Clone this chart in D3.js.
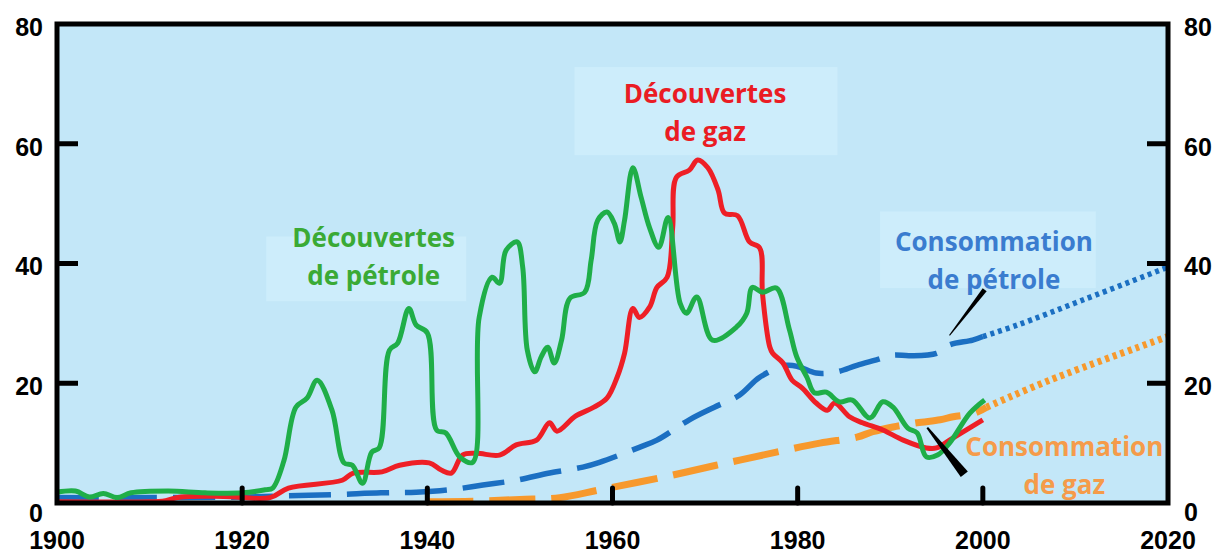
<!DOCTYPE html>
<html>
<head>
<meta charset="utf-8">
<script src="https://cdn.jsdelivr.net/npm/d3@7"></script>
<style>
  body { margin: 0; background: #fff; }
  svg { display: block; }
</style>
</head>
<body>
<script>
const width = 1227;
const height = 554;

// Découvertes de pétrole (green)
const oilDiscYears = [1900, 1902, 1903.5, 1905, 1906.5, 1908, 1912, 1916, 1920, 1922.5, 1923.3, 1924.5, 1925.8, 1927, 1928.1, 1929.7, 1931, 1931.9, 1933, 1934, 1934.8, 1935.9, 1936.8, 1938, 1938.8, 1940, 1941, 1942, 1943.5, 1944.9, 1945.6, 1947, 1947.8, 1948.5, 1949.7, 1950.3, 1950.8, 1951.6, 1952.3, 1953, 1953.7, 1954.5, 1955.4, 1957, 1957.7, 1958.4, 1959.4, 1960.2, 1960.8, 1961.3, 1962.2, 1963.1, 1964, 1965, 1966, 1967.3, 1968, 1969.1, 1970.8, 1973.4, 1974.5, 1975.1, 1976.2, 1977.7, 1979.1, 1979.9, 1981, 1981.8, 1983.1, 1984.5, 1985.9, 1987.8, 1989.2, 1990.3, 1991.9, 1992.9, 1993.9, 1995.1, 1996.4, 1998.6, 2000.2];
const oilDiscValues = [1.8, 2.0, 1.0, 1.6, 0.9, 1.7, 2.0, 1.7, 1.7, 2.2, 2.5, 7, 16, 17.5, 20.5, 15.5, 6.7, 6.3, 3.3, 8.5, 9.2, 25.5, 26.7, 32.5, 29.7, 28.4, 12.2, 11.7, 7.7, 6.8, 31, 37.7, 36.7, 42.2, 43.6, 39.4, 25.5, 21.9, 24.4, 26, 23.4, 27.2, 34.2, 35.2, 40.6, 47.2, 48.6, 46.7, 43.6, 47.2, 56, 51, 46, 42.7, 47.7, 33.4, 31.7, 34.4, 27.2, 29.4, 31.7, 36, 35.2, 35.9, 29, 24.4, 21, 18.4, 18.5, 16.9, 17.2, 14.2, 16.9, 16, 12.5, 11.7, 7.7, 8, 10, 15, 17.2];

// Découvertes de gaz (red)
const gasDiscYears = [1900, 1910, 1911.4, 1913.4, 1918, 1923, 1925, 1930.8, 1932, 1935.1, 1937, 1940.2, 1941.5, 1942.6, 1943.8, 1945.3, 1947.8, 1949.6, 1951.8, 1953.2, 1954, 1956, 1958, 1959.4, 1960.5, 1961.3, 1962.2, 1962.9, 1964, 1964.8, 1965.9, 1966.5, 1966.9, 1968.3, 1969.2, 1970.3, 1971.4, 1972.1, 1973.5, 1974.8, 1975.9, 1976.2, 1977, 1977.3, 1978.4, 1979.4, 1980.5, 1982, 1983.2, 1984, 1985.6, 1987, 1989.2, 1991.4, 1993.9, 1995, 1996.4, 2000];
const gasDiscValues = [0.2, 0.2, 0.3, 1, 1.1, 0.9, 2.5, 3.8, 5, 5.2, 6.3, 6.7, 5.5, 5, 8, 8.3, 8, 9.7, 10.5, 13.4, 12, 14.5, 16, 17.5, 21, 25, 32.5, 31, 32.7, 36, 37.7, 46, 54.4, 55.6, 57.3, 56, 52.3, 48.4, 48, 43.6, 42.6, 35, 26, 25, 23.4, 20.5, 19.2, 16.7, 15.5, 16.7, 14.4, 13.4, 12.2, 10.5, 9.2, 9.2, 10.5, 13.9];

// Consommation de pétrole (blue), measured then projected
const oilConsYears = [1900, 1910, 1920, 1925, 1930, 1935, 1938.8, 1942.4, 1946, 1949.6, 1953.2, 1956.8, 1958.6, 1962.9, 1964.8, 1968.3, 1971, 1973.7, 1975.9, 1978.8, 1980.2, 1982, 1984.2, 1986.4, 1988.5, 1990.3, 1992.1, 1995, 1996.4, 1998.9, 2000];
const oilConsValues = [0.9, 0.9, 1.0, 1.2, 1.4, 1.7, 1.8, 2.2, 3, 3.8, 5, 6, 6.8, 9.3, 10.5, 13.9, 16, 18, 21, 23, 22.7, 21.7, 21.9, 23, 23.9, 24.7, 24.6, 25, 26.4, 27.2, 27.8];
const oilProjYears = [2000, 2003.7, 2010.8, 2020];
const oilProjValues = [27.8, 29.7, 33.9, 39.4];

// Consommation de gaz (orange), measured then projected
const gasConsYears = [1940, 1945, 1950, 1954.3, 1958.6, 1965.1, 1971.2, 1977.7, 1982.4, 1986.4, 1988.1, 1990.3, 1992.9, 1995.4, 1996.8, 1999.1, 2000.4];
const gasConsValues = [0.2, 0.3, 0.6, 0.9, 2.2, 4.2, 6.3, 8.5, 10, 11, 11.9, 12.7, 13.4, 13.9, 14.4, 15, 16];
const gasProjYears = [2000.4, 2007.2, 2020];
const gasProjValues = [16, 20.5, 27.8];

const xTicks = [1900, 1920, 1940, 1960, 1980, 2000, 2020];
const yTicks = [0, 20, 40, 60, 80];

const margin = {top: 24, right: 59, bottom: 51, left: 57};

const x = d3.scaleLinear().domain([1900, 2020]).range([margin.left, width - margin.right]);
const y = d3.scaleLinear().domain([0, 80]).range([height - margin.bottom, margin.top]);

const svg = d3.select('body').append('svg')
    .attr('width', width)
    .attr('height', height);

// plot background
svg.append('rect')
    .attr('x', x(1900)).attr('y', y(80))
    .attr('width', x(2020) - x(1900)).attr('height', y(0) - y(80))
    .attr('fill', '#c3e7f8');

// lighter boxes behind the labels
const labels = [
    {lines: ['Découvertes', 'de pétrole'], color: '#3aaa35', cx: 1934.2, cy: 44.3, box: [1922.6, 44.5, 1944.2, 33.7]},
    {lines: ['Découvertes', 'de gaz'], color: '#ea1c24', cx: 1970, cy: 68.3, box: [1955.9, 72.8, 1984.3, 58.1]},
    {lines: ['Consommation', 'de pétrole'], color: '#3a7ccf', cx: 2001.2, cy: 43.6, box: [1988.9, 48.7, 2012.2, 35.9]},
    {lines: ['Consommation', 'de gaz'], color: '#f59b4a', cx: 2008.8, cy: 9.4, box: null}
];

svg.append('g').selectAll('rect')
    .data(labels.filter(d => d.box))
    .enter().append('rect')
    .attr('x', d => x(d.box[0]))
    .attr('y', d => y(d.box[1]))
    .attr('width', d => x(d.box[2]) - x(d.box[0]))
    .attr('height', d => y(d.box[3]) - y(d.box[1]))
    .attr('fill', '#cdedfb');

function pts(years, values) {
    return years.map((yr, i) => [yr, values[i]]);
}

const line = d3.line()
    .x(d => x(d[0]))
    .y(d => y(d[1]))
    .curve(d3.curveCatmullRom.alpha(0.5));

const series = [
    {data: pts(gasConsYears, gasConsValues), color: '#f7992d', width: 7, dash: '46,16'},
    {data: pts(gasProjYears, gasProjValues), color: '#f7992d', width: 7, dash: '4,4'},
    {data: pts(oilConsYears, oilConsValues), color: '#1b6fc2', width: 5.5, dash: '42,16'},
    {data: pts(oilProjYears, oilProjValues), color: '#1b6fc2', width: 5.5, dash: '4,4'},
    {data: pts(gasDiscYears, gasDiscValues), color: '#ee1f26', width: 5, dash: null},
    {data: pts(oilDiscYears, oilDiscValues), color: '#1fae48', width: 5, dash: null}
];

svg.append('g').selectAll('path')
    .data(series)
    .enter().append('path')
    .attr('fill', 'none')
    .attr('stroke', d => d.color)
    .attr('stroke-width', d => d.width)
    .attr('stroke-dasharray', d => d.dash)
    .attr('stroke-linejoin', 'round')
    .attr('d', d => line(d.data));

// black pointer wedges (year, value, half-width at that end)
const pointers = [
    [[1996.4, 28, 0.5], [2000.2, 35.6, 2.5]],
    [[1994, 12.6, 1], [1998, 4.8, 4.5]]
];
svg.append('g').selectAll('path')
    .data(pointers)
    .enter().append('path')
    .attr('fill', '#000')
    .attr('d', d => {
        const [a, b] = d;
        const ax = x(a[0]), ay = y(a[1]), bx = x(b[0]), by = y(b[1]);
        const len = Math.hypot(bx - ax, by - ay);
        const nx = -(by - ay) / len, ny = (bx - ax) / len;
        return `M${ax + nx * a[2]},${ay + ny * a[2]}L${bx + nx * b[2]},${by + ny * b[2]}` +
            `L${bx - nx * b[2]},${by - ny * b[2]}L${ax - nx * a[2]},${ay - ny * a[2]}Z`;
    });

// label text
const labelG = svg.append('g')
    .attr('font-family', '"Open Sans", sans-serif')
    .attr('font-weight', 'bold')
    .attr('font-size', 26)
    .attr('text-anchor', 'middle');

labels.forEach(l => {
    l.lines.forEach((t, i) => {
        labelG.append('text')
            .attr('x', x(l.cx))
            .attr('y', y(l.cy) + i * 38)
            .attr('dy', '0.35em')
            .attr('fill', l.color)
            .text(t);
    });
});

// frame
svg.append('rect')
    .attr('x', x(1900)).attr('y', y(80))
    .attr('width', x(2020) - x(1900)).attr('height', y(0) - y(80))
    .attr('fill', 'none')
    .attr('stroke', '#000')
    .attr('stroke-width', 5);

// inner ticks
const tickG = svg.append('g').attr('stroke', '#000').attr('stroke-width', 5);
yTicks.filter(v => v > 0 && v < 80).forEach(v => {
    tickG.append('line').attr('x1', x(1900)).attr('x2', x(1900) + 21).attr('y1', y(v)).attr('y2', y(v));
    tickG.append('line').attr('x1', x(2020)).attr('x2', x(2020) - 21).attr('y1', y(v)).attr('y2', y(v));
});
xTicks.filter(v => v > 1900 && v < 2020).forEach(v => {
    tickG.append('line').attr('x1', x(v)).attr('x2', x(v)).attr('y1', y(0)).attr('y2', y(0) - 15)
        .attr('stroke-linecap', 'round');
});

// tick labels
const axisG = svg.append('g')
    .attr('font-family', '"Liberation Sans", Arial, sans-serif')
    .attr('font-weight', 'bold')
    .attr('font-size', 25)
    .attr('fill', '#000');

yTicks.forEach(v => {
    const yy = v === 0 ? y(0) + 10 : y(v) + 3;
    axisG.append('text')
        .attr('x', x(1900) - 14).attr('y', yy)
        .attr('dy', '0.35em').attr('text-anchor', 'end')
        .text(v);
    axisG.append('text')
        .attr('x', x(2020) + 16).attr('y', yy - (v === 0 ? 1 : 0))
        .attr('dy', '0.35em').attr('text-anchor', 'start')
        .text(v);
});

xTicks.forEach(v => {
    axisG.append('text')
        .attr('x', x(v)).attr('y', y(0) + 37)
        .attr('dy', '0.35em').attr('text-anchor', 'middle')
        .text(v);
});
</script>
</body>
</html>
